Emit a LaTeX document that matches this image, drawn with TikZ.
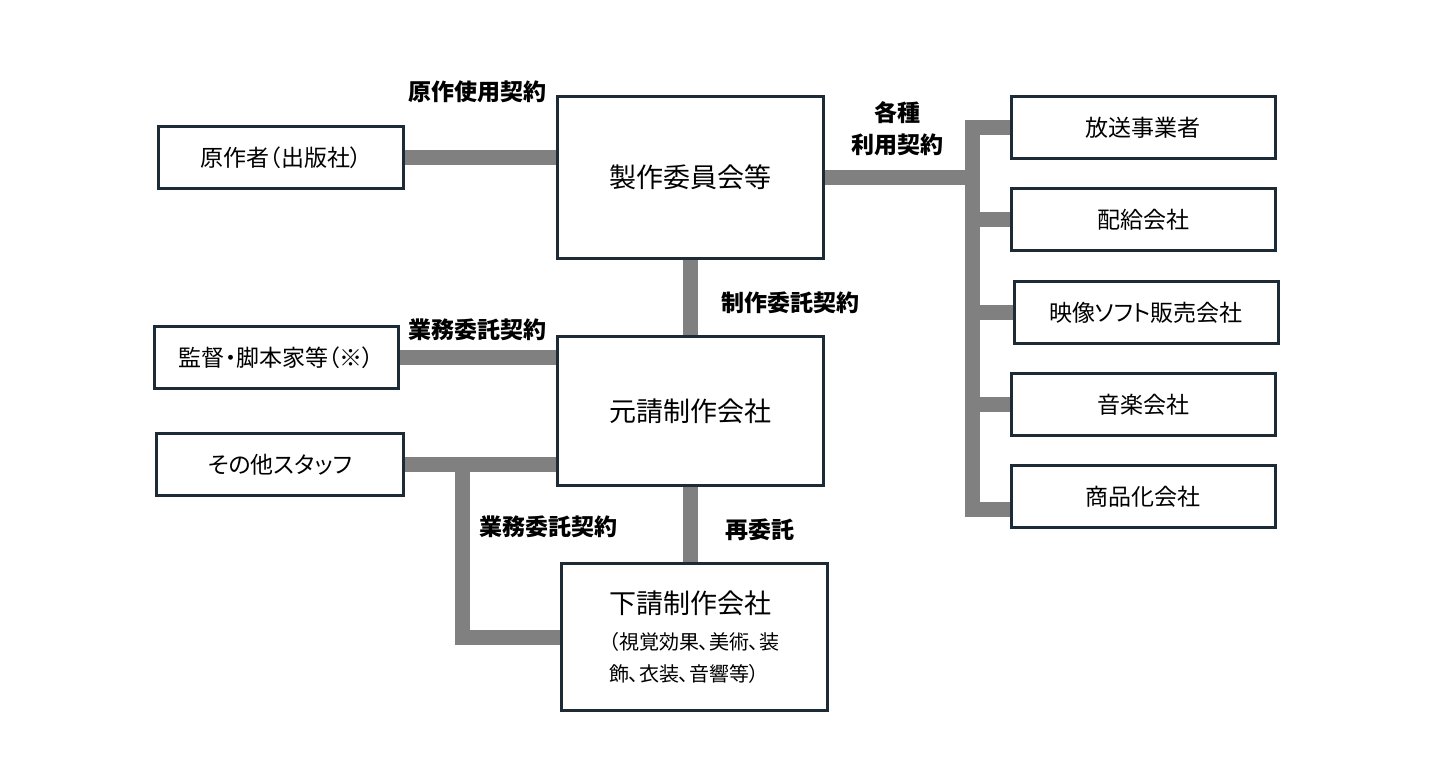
\documentclass[tikz,border=0pt]{standalone}
\usepackage{fontspec}
\setmainfont{Noto Sans CJK JP}[RawFeature=+palt]
\definecolor{boxline}{HTML}{1C2B36}
\definecolor{linkgray}{HTML}{808080}
\begin{document}
\begin{tikzpicture}[
        x = 0.5pt, y = -0.5pt,
        box/.style = {draw = boxline, line width = 1.5pt, inner sep = 0pt,
            minimum width = 132pt, minimum height = 31pt, font = \fontsize{11.5}{14}\selectfont},
        bigbox/.style = {box, minimum width = 133pt, font = \fontsize{13.5}{16}\selectfont},
        link/.style = {draw = linkgray, line width = 7.5pt},
        lbl/.style = {font = \bfseries\fontsize{11.5}{16}\selectfont, align = center, inner sep = 0pt},
    ]
    \useasboundingbox (0, 0) rectangle (1434, 769);
    % left column
    \node[box, minimum width = 122.5pt] (gensaku) at (281, 157.5) {原作者（出版社）};
    \node[box, minimum width = 122pt] (kantoku) at (276.5, 357.5) {監督・脚本家等（※）};
    \node[box, minimum width = 123.5pt] (sonota) at (280, 464.5) {その他スタッフ};
    % middle column
    \node[bigbox, minimum height = 81pt] (seisaku) at (690.5, 177.5) {製作委員会等};
    \node[bigbox, minimum height = 74.5pt] (motouke) at (690, 411) {元請制作会社};
    \node[bigbox, minimum height = 73.5pt, align = left] (shitauke) at (694, 637)
        {下請制作会社\\[2pt]
         {\fontsize{10}{16}\selectfont （視覚効果、美術、装}\\
         {\fontsize{10}{16}\selectfont 飾、衣装、音響等）}};
    % right column
    \node[box] (hoso) at (1143, 127.5) {放送事業者};
    \node[box] (haikyu) at (1143, 219.5) {配給会社};
    \node[box] (eizo) at (1146, 312.5) {映像ソフト販売会社};
    \node[box] (ongaku) at (1143, 404.5) {音楽会社};
    \node[box] (shohin) at (1143, 496.5) {商品化会社};
    \coordinate (trunk) at (972, 0);
    \coordinate (fork) at (462, 0);
    % connectors
    \draw[link]
        (gensaku.east) -- (gensaku.east -| seisaku.west)
        (kantoku.east) -- (kantoku.east -| motouke.west)
        (sonota.east) -- (sonota.east -| motouke.west)
        (sonota.east -| fork) -- (fork |- shitauke.west) -- (shitauke.west)
        (seisaku.south) -- (seisaku.south |- motouke.north)
        (motouke.south) -- (motouke.south |- shitauke.north)
        (seisaku.east) -- (seisaku.east -| trunk)
        (hoso.west) -- (hoso.west -| trunk) -- ([yshift = -6.5pt]shohin.west -| trunk)
            -- ([yshift = -6.5pt]shohin.west)
        (haikyu.west) -- (haikyu.west -| trunk)
        (eizo.west) -- (eizo.west -| trunk)
        (ongaku.west) -- (ongaku.west -| trunk)
    ;
    % labels
    \node[lbl] (l-gensaku) at (477, 92) {原作使用契約};
    \node[lbl] (l-riyo) at (897, 129) {各種\\利用契約};
    \node[lbl] (l-seisaku) at (790, 303) {制作委託契約};
    \node[lbl] (l-kantoku) at (477, 330) {業務委託契約};
    \node[lbl] (l-sonota) at (548, 527) {業務委託契約};
    \node[lbl] (l-sai) at (760, 530) {再委託};
\end{tikzpicture}
\end{document}
